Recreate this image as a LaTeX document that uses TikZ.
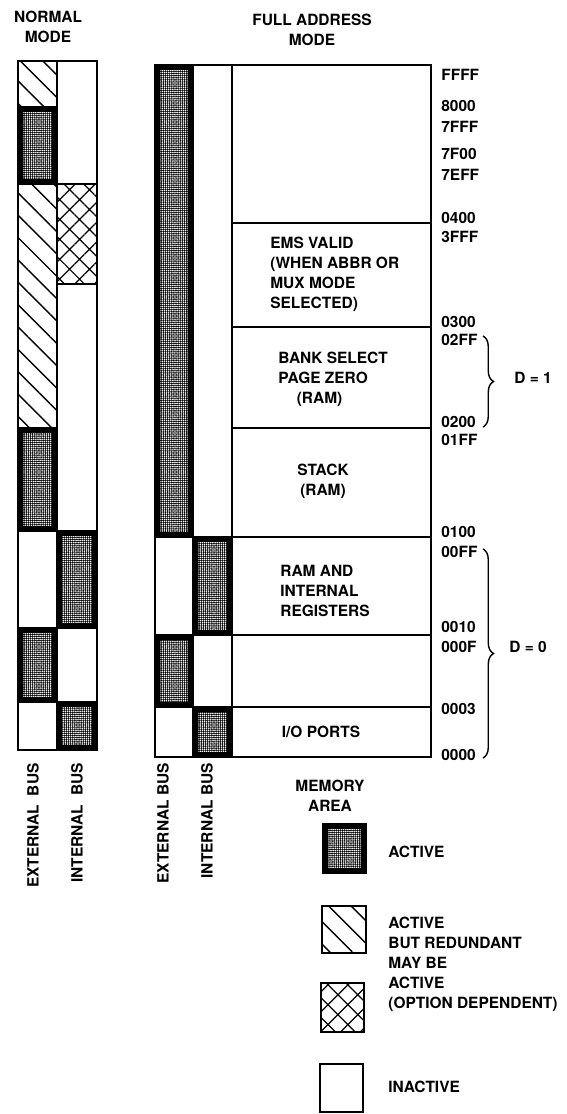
\documentclass[tikz,border=0pt]{standalone}
\usepackage{fontspec}
\setmainfont{TeX Gyre Heros}
\usetikzlibrary{patterns.meta,decorations.pathreplacing}

\begin{document}
\begin{tikzpicture}[x=0.02cm, y=-0.02cm,
  every node/.style={font=\bfseries\fontsize{8.8}{11.4}\selectfont, inner sep=0pt},
  frame/.style={draw, line width=1.1pt},
  active/.style={frame, fill=black, path picture={\fill[pattern={Dots[distance=1.2pt, radius=0.5pt]}, pattern color=white]
      ([xshift=3pt,yshift=-3pt]path picture bounding box.north west) rectangle
      ([xshift=-3pt,yshift=3pt]path picture bounding box.south east);}},
  redundant/.style={frame, pattern={Lines[angle=-45, distance=9pt, line width=0.8pt]}},
  option/.style={frame, pattern={Hatch[angle=45, distance=8pt, line width=0.7pt]}},
  inactive/.style={frame, fill=white},
  bus/.style={rotate=90, anchor=east},
  addr/.style={anchor=west},
  dbrace/.style={decorate, decoration={brace, amplitude=6pt}, line width=0.8pt}]
  \useasboundingbox (0,0) rectangle (566,1114);

  \node[align=center] (normal) at (48,27) {NORMAL\\MODE};
  \node[align=center] (full) at (312,30) {FULL ADDRESS\\MODE};

  % normal mode
  \draw[redundant] (18,61) rectangle (57,107);
  \draw[active] (18,107) rectangle (57,184);
  \draw[redundant] (18,184) rectangle (57,428);
  \draw[active] (18,428) rectangle (57,531);
  \draw[inactive] (18,531) rectangle (57,628);
  \draw[active] (18,628) rectangle (57,702);
  \draw[inactive] (18,702) rectangle (57,750);
  \draw[inactive] (57,61) rectangle (97,184);
  \draw[option] (57,184) rectangle (97,284);
  \draw[inactive] (57,284) rectangle (97,531);
  \draw[active] (57,531) rectangle (97,628);
  \draw[inactive] (57,628) rectangle (97,702);
  \draw[active] (57,702) rectangle (97,750);

  % full address mode
  \draw[active] (155,65) rectangle (193,537);
  \draw[inactive] (193,65) rectangle (232,537);
  \draw[inactive] (155,537) rectangle (193,635);
  \draw[active] (193,537) rectangle (232,635);
  \draw[active] (155,635) rectangle (193,707);
  \draw[inactive] (193,635) rectangle (232,707);
  \draw[inactive] (155,707) rectangle (193,757);
  \draw[active] (193,707) rectangle (232,757);

  \draw[frame] (232,65) rectangle (431,223);
  \draw[frame] (232,223) rectangle (431,327);
  \draw[frame] (232,327) rectangle (431,428);
  \draw[frame] (232,428) rectangle (431,537);
  \draw[frame] (232,537) rectangle (431,635);
  \draw[frame] (232,635) rectangle (431,707);
  \draw[frame] (232,707) rectangle (431,757);

  \node[align=left, anchor=west] (ems) at (270,274) {EMS VALID\\(WHEN ABBR OR\\MUX MODE\\SELECTED)};
  \node[align=left, anchor=west] (bank) at (278,379) {BANK SELECT\\PAGE ZERO\\\hspace*{10.5pt}(RAM)};
  \node[align=center] (stack) at (323,481) {STACK\\(RAM)};
  \node[align=left, anchor=west] (ramreg) at (280,591) {RAM AND\\INTERNAL\\REGISTERS};
  \node (ioports) at (321,732) {I/O PORTS};

  \node[addr] (aFFFF) at (441,75) {FFFF};
  \node[addr] (a8000) at (441,106) {8000};
  \node[addr] (a7FFF) at (441,127) {7FFF};
  \node[addr] (a7F00) at (441,154) {7F00};
  \node[addr] (a7EFF) at (441,175) {7EFF};
  \node[addr] (a0400) at (441,218) {0400};
  \node[addr] (a3FFF) at (441,237) {3FFF};
  \node[addr] (a0300) at (441,322) {0300};
  \node[addr] (a02FF) at (441,340) {02FF};
  \node[addr] (a0200) at (441,422) {0200};
  \node[addr] (a01FF) at (441,440) {01FF};
  \node[addr] (a0100) at (441,532) {0100};
  \node[addr] (a00FF) at (441,552) {00FF};
  \node[addr] (a0010) at (441,627) {0010};
  \node[addr] (a000F) at (441,647) {000F};
  \node[addr] (a0003) at (441,709) {0003};
  \node[addr] (a0000) at (441,755) {0000};

  \coordinate (d1top) at (483,336);
  \coordinate (d1bot) at (483,427);
  \coordinate (d0top) at (483,549);
  \coordinate (d0bot) at (483,758);
  \draw[dbrace] (d1top) -- (d1bot);
  \draw[dbrace] (d0top) -- (d0bot);
  \node (d1) at (533,378) {D = 1};
  \node (d0) at (528,647) {D = 0};

  \node[bus] (extn) at (33,763) {EXTERNAL\ \ BUS};
  \node[bus] (intn) at (77,763) {INTERNAL\ \ BUS};
  \node[bus] (extf) at (163,763) {EXTERNAL BUS};
  \node[bus] (intf) at (207,763) {INTERNAL BUS};

  % legend
  \node[align=center] (memarea) at (330,796) {MEMORY\\AREA};
  \draw[active] (323,824) rectangle (366,873);
  \draw[redundant] (322,906) rectangle (366,953);
  \draw[option] (321,983) rectangle (364,1032);
  \draw[inactive] (320,1064) rectangle (363,1112);
  \node[anchor=west] (lgactive) at (388,852) {ACTIVE};
  \node[anchor=west, align=left] (lgredund) at (388,933) {ACTIVE\\BUT REDUNDANT};
  \node[anchor=west, align=left] (lgoption) at (388,984) {MAY BE\\ACTIVE\\(OPTION DEPENDENT)};
  \node[anchor=west] (lginactive) at (388,1087) {INACTIVE};
\end{tikzpicture}
\end{document}
